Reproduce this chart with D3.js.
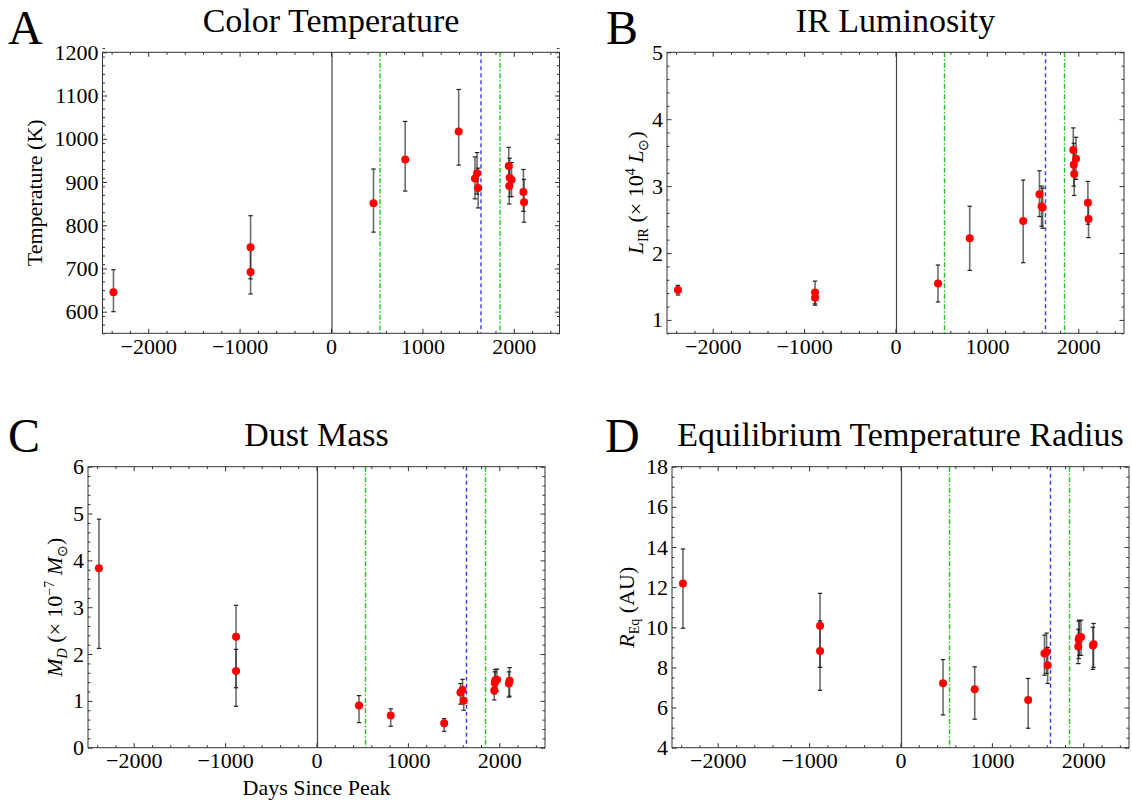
<!DOCTYPE html>
<html>
<head>
<meta charset="utf-8">
<script src="https://cdn.jsdelivr.net/npm/d3@7"></script>
<style>
  body { margin: 0; background: #fff; }
  svg text { font-family: "Liberation Serif", "Times New Roman", serif; fill: #000; }
</style>
</head>
<body>
<div class="container"></div>
<script>
// epochs (days since peak), shared by all four panels
const days = [-2380, -880, -880, 465, 812, 1397, 1575, 1598, 1610, 1945, 1950, 1955, 1975, 2105, 2112]

// A: colour temperature (K)
const tempK  = [645, 749, 692, 851, 952, 1017, 908, 920, 886, 937, 891, 910, 905, 877, 853]
const tempLo = [600, 676, 641, 784, 879, 939, 861, 872, 840, 894, 849, 866, 866, 832, 807]
const tempHi = [697, 822, 743, 930, 1040, 1114, 958, 968, 932, 980, 933, 955, 945, 929, 906]

// B: IR luminosity (1e4 Lsun)
const lumIR = [1.447, 1.41, 1.33, 1.546, 2.222, 2.48, 2.88, 2.70, 2.68, 3.54, 3.32, 3.18, 3.41, 2.75, 2.51]
const lumLo = [1.372, 1.24, 1.22, 1.268, 1.74, 1.855, 2.545, 2.40, 2.37, 3.21, 3.00, 2.86, 3.10, 2.43, 2.23]
const lumHi = [1.517, 1.58, 1.45, 1.82, 2.70, 3.09, 3.23, 3.00, 2.97, 3.87, 3.64, 3.50, 3.73, 3.07, 2.79]

// C: dust mass (1e-7 Msun)
const dustMass = [3.83, 2.37, 1.64, 0.90, 0.69, 0.52, 1.18, 1.24, 1.00, 1.22, 1.38, 1.44, 1.45, 1.37, 1.43]
const dustLo   = [2.12, 1.28, 0.885, 0.536, 0.457, 0.35, 0.93, 0.98, 0.80, 1.02, 1.15, 1.20, 1.21, 1.08, 1.10]
const dustHi   = [4.88, 3.04, 2.10, 1.113, 0.83, 0.62, 1.37, 1.46, 1.18, 1.43, 1.62, 1.67, 1.68, 1.62, 1.71]

// D: equilibrium temperature radius (AU)
const radiusEq = [12.18, 10.07, 8.82, 7.21, 6.91, 6.38, 8.69, 8.77, 8.11, 9.04, 9.38, 9.48, 9.52, 9.09, 9.16]
const radiusLo = [9.95, 8.0, 6.86, 5.63, 5.42, 4.97, 7.61, 7.7, 7.2, 8.19, 8.44, 8.6, 8.6, 7.9, 8.0]
const radiusHi = [13.9, 11.69, 10.32, 8.39, 8.03, 7.45, 9.61, 9.71, 9.0, 9.9, 10.3, 10.35, 10.35, 10.0, 10.19]

// reference epochs drawn as vertical lines
const markerDays  = [0, 530, 1640, 1840]
const markerKinds = ['peak', 'green', 'blue', 'green']

const xTicks = [-2000, -1000, 0, 1000, 2000]

const W = 457
const H = 281

const svg = d3.select('.container')
  .append('svg')
  .attr('width', 1132)
  .attr('height', 800)

function range(a, b, step) {
  return d3.range(Math.round((b - a) / step) + 1).map(i => +(a + i * step).toFixed(4))
}

const intFormat = d3.format('d')

function Panel(cfg) {
  const g = svg.append('g').attr('transform', `translate(${cfg.left}, ${cfg.top})`)

  const x = d3.scaleLinear().domain([-2500, 2500]).range([0, W])
  const y = d3.scaleLinear().domain(cfg.yDomain).range([H, 0])

  const xMinor = range(-2400, 2400, 200).filter(v => !xTicks.includes(v))
  const yMinor = range(cfg.yDomain[0], cfg.yDomain[1], cfg.yMinorStep)
    .filter(v => !cfg.yTicks.some(t => Math.abs(t - v) < 1e-6))

  // reference lines
  const styles = {
    peak:  { stroke: '#444', width: 1.2, dash: null },
    green: { stroke: '#1fc41f', width: 1.4, dash: '5,2,1.5,2' },
    blue:  { stroke: '#3a3aff', width: 1.4, dash: '4,3' },
  }
  const snap = v => Math.round(v) + 0.5
  g.selectAll('line.marker')
    .data(markerDays)
    .enter().append('line')
      .attr('class', 'marker')
      .attr('x1', d => snap(x(d))).attr('x2', d => snap(x(d)))
      .attr('y1', 0).attr('y2', H)
      .attr('stroke', (d, i) => styles[markerKinds[i]].stroke)
      .attr('stroke-width', (d, i) => styles[markerKinds[i]].width)
      .attr('stroke-dasharray', (d, i) => styles[markerKinds[i]].dash)

  const rows = days.map((d, i) => ({ day: d, v: cfg.values[i], lo: cfg.lo[i], hi: cfg.hi[i] }))

  // error bars
  const eb = g.append('g')
  eb.selectAll('line.bar').data(rows).enter().append('line')
    .attr('x1', d => x(d.day)).attr('x2', d => x(d.day))
    .attr('y1', d => y(d.lo)).attr('y2', d => y(d.hi))
    .attr('stroke', 'rgba(30,30,30,0.65)')
    .attr('stroke-width', 1.6)
  ;['lo', 'hi'].forEach(k => {
    eb.selectAll(`line.cap-${k}`).data(rows).enter().append('line')
      .attr('x1', d => x(d.day) - 2.2).attr('x2', d => x(d.day) + 2.2)
      .attr('y1', d => y(d[k])).attr('y2', d => y(d[k]))
      .attr('stroke', '#222')
      .attr('stroke-width', 1.2)
  })

  // points
  g.append('g').selectAll('circle').data(rows).enter().append('circle')
    .attr('cx', d => x(d.day))
    .attr('cy', d => y(d.v))
    .attr('r', 4)
    .attr('fill', '#ff0000')

  // frame
  g.append('rect')
    .attr('width', W).attr('height', H)
    .attr('fill', 'none')
    .attr('stroke', '#333')
    .attr('stroke-width', 1)

  const clean = sel => sel.select('.domain').remove()
  const tickStyle = sel => sel.selectAll('line').attr('stroke', '#333')

  // major ticks with labels
  g.append('g')
      .attr('transform', `translate(0, ${H})`)
    .call(d3.axisBottom(x).tickValues(xTicks).tickSize(-4.5).tickPadding(5).tickFormat(intFormat))
    .call(clean).call(tickStyle)
    .selectAll('text').attr('font-size', '22px')
  g.append('g')
    .call(d3.axisLeft(y).tickValues(cfg.yTicks).tickSize(-4.5).tickPadding(4).tickFormat(intFormat))
    .call(clean).call(tickStyle)
    .selectAll('text').attr('font-size', '22px')

  // mirrored ticks
  g.append('g').call(d3.axisTop(x).tickValues(xTicks).tickSize(-4.5).tickFormat(''))
    .call(clean).call(tickStyle)
  g.append('g').attr('transform', `translate(${W}, 0)`)
    .call(d3.axisRight(y).tickValues(cfg.yTicks).tickSize(-4.5).tickFormat(''))
    .call(clean).call(tickStyle)

  // minor ticks
  g.append('g').attr('transform', `translate(0, ${H})`)
    .call(d3.axisBottom(x).tickValues(xMinor).tickSize(-2.5).tickFormat(''))
    .call(clean).call(tickStyle)
  g.append('g')
    .call(d3.axisTop(x).tickValues(xMinor).tickSize(-2.5).tickFormat(''))
    .call(clean).call(tickStyle)
  g.append('g')
    .call(d3.axisLeft(y).tickValues(yMinor).tickSize(-2.5).tickFormat(''))
    .call(clean).call(tickStyle)
  g.append('g').attr('transform', `translate(${W}, 0)`)
    .call(d3.axisRight(y).tickValues(yMinor).tickSize(-2.5).tickFormat(''))
    .call(clean).call(tickStyle)

  // title and panel letter
  g.append('text')
    .attr('x', W / 2)
    .attr('y', cfg.titleY)
    .attr('text-anchor', 'middle')
    .attr('font-size', '34px')
    .text(cfg.title)
  svg.append('text')
    .attr('x', cfg.letterX)
    .attr('y', cfg.letterY)
    .attr('font-size', '48px')
    .text(cfg.letter)

  // y-axis label
  const yl = g.append('text')
    .attr('transform', `translate(${cfg.yLabelX}, ${H / 2}) rotate(-90)`)
    .attr('text-anchor', 'middle')
    .attr('font-size', '22px')
  cfg.yLabel.forEach(p => {
    yl.append('tspan')
      .attr('dy', p.dy || 0)
      .attr('font-style', p.italic ? 'italic' : null)
      .attr('font-size', p.size || null)
      .text(p.t)
  })

  if (cfg.xLabel) {
    g.append('text')
      .attr('x', W / 2)
      .attr('y', H + 47)
      .attr('text-anchor', 'middle')
      .attr('font-size', '22px')
      .text(cfg.xLabel)
  }
}

Panel({
  left: 102.5, top: 52.3,
  yDomain: [550, 1200], yTicks: range(600, 1200, 100), yMinorStep: 20,
  values: tempK, lo: tempLo, hi: tempHi,
  title: 'Color Temperature', titleY: -20,
  letter: 'A', letterX: 8, letterY: 44,
  yLabelX: -61,
  yLabel: [{ t: 'Temperature (K)' }],
})

Panel({
  left: 667, top: 52.3,
  yDomain: [0.8, 5], yTicks: range(1, 5, 1), yMinorStep: 0.2,
  values: lumIR, lo: lumLo, hi: lumHi,
  title: 'IR Luminosity', titleY: -20,
  letter: 'B', letterX: 606, letterY: 44,
  yLabelX: -24,
  yLabel: [
    { t: 'L', italic: true },
    { t: 'IR', size: '14px', dy: 5 },
    { t: ' (× 10', dy: -5 },
    { t: '4', size: '14px', dy: -8 },
    { t: ' L', italic: true, dy: 8 },
    { t: '⊙', size: '14px', dy: 5 },
    { t: ')', dy: -5 },
  ],
})

Panel({
  left: 88, top: 466.7,
  yDomain: [0, 6], yTicks: range(0, 6, 1), yMinorStep: 0.2,
  values: dustMass, lo: dustLo, hi: dustHi,
  title: 'Dust Mass', titleY: -21,
  letter: 'C', letterX: 8, letterY: 452,
  yLabelX: -26,
  xLabel: 'Days Since Peak',
  yLabel: [
    { t: 'M', italic: true },
    { t: 'D', italic: true, size: '14px', dy: 5 },
    { t: ' (× 10', dy: -5 },
    { t: '−7', size: '14px', dy: -8 },
    { t: ' M', italic: true, dy: 8 },
    { t: '⊙', size: '14px', dy: 5 },
    { t: ')', dy: -5 },
  ],
})

Panel({
  left: 672, top: 466.7,
  yDomain: [4, 18], yTicks: range(4, 18, 2), yMinorStep: 0.5,
  values: radiusEq, lo: radiusLo, hi: radiusHi,
  title: 'Equilibrium Temperature Radius', titleY: -21,
  letter: 'D', letterX: 605, letterY: 452,
  yLabelX: -38,
  yLabel: [
    { t: 'R', italic: true },
    { t: 'Eq', size: '14px', dy: 5 },
    { t: ' (AU)', dy: -5 },
  ],
})
</script>
</body>
</html>
